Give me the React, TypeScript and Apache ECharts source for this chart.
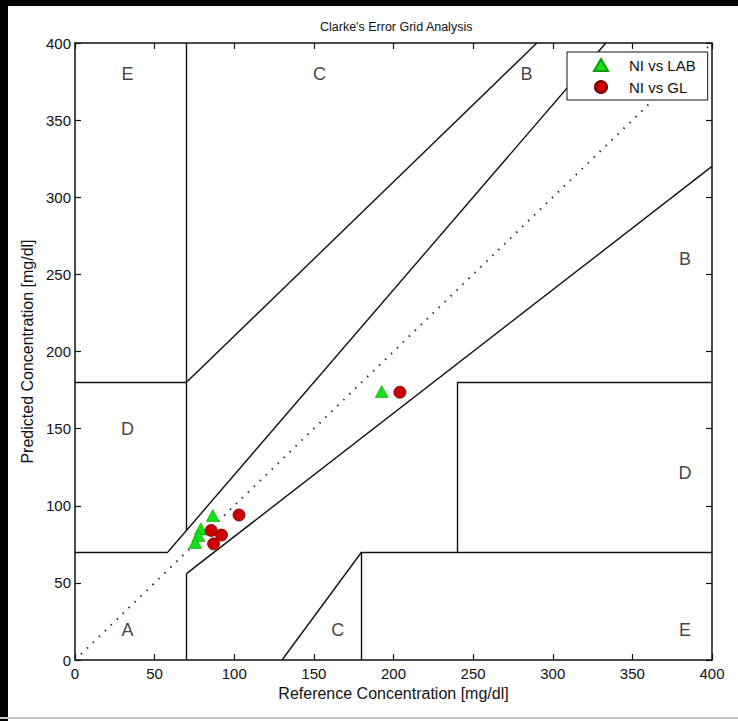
import React, { useEffect, useRef } from "react";
import * as echarts from "echarts";

const titleText = "Clarke's Error Grid Analysis";
const xAxisName = "Reference Concentration [mg/dl]";
const yAxisName = "Predicted Concentration [mg/dl]";

const axisMin = 0;
const axisMax = 400;
const axisInterval = 50;

const niVsLab: number[][] = [
  [86.5, 93.7],
  [79, 85],
  [77.5, 80.7],
  [75.5, 76.2],
  [192.6, 174],
];

const niVsGl: number[][] = [
  [103, 94],
  [85.5, 84],
  [92, 81],
  [87, 75.3],
  [204, 173.6],
];

const diagonal: number[][] = [
  [0, 0],
  [400, 400],
];

const zoneSegments: number[][][] = [
  [[0, 70], [175 / 3, 70]],
  [[175 / 3, 70], [400 / 1.2, 400]],
  [[70, 84], [70, 400]],
  [[0, 180], [70, 180]],
  [[70, 180], [290, 400]],
  [[70, 0], [70, 56]],
  [[70, 56], [400, 320]],
  [[180, 0], [180, 70]],
  [[180, 70], [400, 70]],
  [[240, 70], [240, 180]],
  [[240, 180], [400, 180]],
  [[130, 0], [180, 70]],
];

const zoneLabels: { name: string; value: number[] }[] = [
  { name: "E", value: [33, 380] },
  { name: "C", value: [153.5, 380] },
  { name: "B", value: [283.5, 380] },
  { name: "B", value: [383, 260] },
  { name: "D", value: [33, 150] },
  { name: "D", value: [383, 121] },
  { name: "A", value: [33, 19.5] },
  { name: "C", value: [165, 19.5] },
  { name: "E", value: [383, 19.5] },
];

const FONT = "'Liberation Sans', Arial, Helvetica, sans-serif";

export default function App() {
  const ref = useRef<HTMLDivElement>(null);

  useEffect(() => {
    if (!ref.current) return;
    const chart = echarts.init(ref.current, undefined, { renderer: "svg" });

    const baseAxis = {
      type: "value" as const,
      min: axisMin,
      max: axisMax,
      interval: axisInterval,
      splitLine: { show: false },
      axisLine: { show: true, onZero: false, lineStyle: { color: "#111", width: 1.5 } },
      axisTick: { show: true, inside: true, length: 6, lineStyle: { color: "#111", width: 1.2 } },
    };

    chart.setOption({
      animation: false,
      backgroundColor: "#fff",
      textStyle: { fontFamily: FONT },
      graphic: [
        { type: "rect", shape: { x: 0, y: 0, width: 8, height: 721 }, style: { fill: "#000" }, z: 100 },
        { type: "rect", shape: { x: 0, y: 0, width: 738, height: 6 }, style: { fill: "#000" }, z: 100 },
        { type: "rect", shape: { x: 0, y: 717, width: 738, height: 2 }, style: { fill: "#c4c4c4" }, z: 100 },
      ],
      title: {
        text: titleText,
        left: 320,
        top: 20,
        padding: 0,
        textStyle: { fontFamily: FONT, fontSize: 12.5, fontWeight: "normal", color: "#111" },
      },
      grid: { left: 75, top: 43, width: 637, height: 617, containLabel: false },
      legend: {
        data: ["NI vs LAB", "NI vs GL"],
        orient: "vertical",
        left: 567,
        top: 52,
        padding: [5, 12, 5, 26],
        itemGap: 6,
        itemWidth: 14,
        itemHeight: 12,
        borderColor: "#111",
        borderWidth: 1,
        borderRadius: 0,
        backgroundColor: "#fff",
        z: 20,
        textStyle: {
          fontFamily: FONT,
          fontSize: 15,
          color: "#111",
          lineHeight: 16,
          padding: [0, 0, 0, 16],
        },
      },
      xAxis: [
        {
          ...baseAxis,
          position: "bottom",
          name: xAxisName,
          nameLocation: "middle",
          nameGap: 22,
          nameTextStyle: { fontFamily: FONT, fontSize: 16, color: "#111" },
          axisLabel: { show: true, fontFamily: FONT, fontSize: 15, color: "#111", margin: 6 },
        },
        {
          ...baseAxis,
          position: "top",
          axisLabel: { show: false },
        },
      ],
      yAxis: [
        {
          ...baseAxis,
          position: "left",
          name: yAxisName,
          nameLocation: "middle",
          nameGap: 30,
          nameTextStyle: { fontFamily: FONT, fontSize: 16, color: "#111" },
          axisLabel: { show: true, fontFamily: FONT, fontSize: 15, color: "#111", margin: 4 },
        },
        {
          ...baseAxis,
          position: "right",
          axisLabel: { show: false },
        },
      ],
      series: [
        {
          name: "zones",
          type: "lines",
          coordinateSystem: "cartesian2d",
          xAxisIndex: 0,
          yAxisIndex: 0,
          silent: true,
          z: 2,
          lineStyle: { color: "#111", width: 1.4, opacity: 1 },
          data: zoneSegments.map((s) => ({ coords: s })),
        },
        {
          name: "diagonal",
          type: "line",
          xAxisIndex: 0,
          yAxisIndex: 0,
          silent: true,
          symbol: "none",
          z: 1,
          lineStyle: { color: "#333", width: 2, type: [1.5, 6.8] },
          data: diagonal,
        },
        {
          name: "labels",
          type: "scatter",
          xAxisIndex: 0,
          yAxisIndex: 0,
          silent: true,
          symbolSize: 1,
          itemStyle: { color: "rgba(0,0,0,0)" },
          label: {
            show: true,
            position: "inside",
            formatter: (p: any) => p.name,
            fontFamily: FONT,
            fontSize: 18,
            color: "#111",
          },
          data: zoneLabels,
        },
        {
          name: "NI vs LAB",
          type: "scatter",
          xAxisIndex: 0,
          yAxisIndex: 0,
          symbol: "triangle",
          symbolSize: [13, 12],
          z: 4,
          itemStyle: { color: "#16e016", borderColor: "#0b9a0b", borderWidth: 0.6, opacity: 1 },
          data: niVsLab,
        },
        {
          name: "NI vs GL",
          type: "scatter",
          xAxisIndex: 0,
          yAxisIndex: 0,
          symbol: "circle",
          symbolSize: 12,
          z: 5,
          itemStyle: { color: "#cc0000", borderColor: "#6e0000", borderWidth: 0.8, opacity: 1 },
          data: niVsGl,
        },
      ],
    });

    return () => {
      chart.dispose();
    };
  }, []);

  return (
    <div
      ref={ref}
      style={{ position: "fixed", left: 0, top: 0, width: 738, height: 721, background: "#fff" }}
    />
  );
}
